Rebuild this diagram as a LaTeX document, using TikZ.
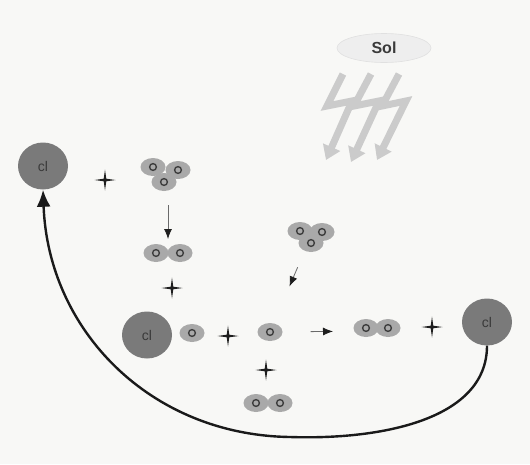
\documentclass[tikz,border=0pt]{standalone}
\usepackage{fontspec}
\setmainfont{Liberation Sans}
\usetikzlibrary{arrows.meta,shapes.geometric}
\definecolor{paper}{HTML}{F8F8F6}
\definecolor{clgray}{HTML}{7A7A7A}
\definecolor{cltext}{HTML}{3A3A3A}
\definecolor{atomgray}{HTML}{A9A9A9}
\definecolor{ringcol}{HTML}{3E3E3E}
\definecolor{shaftcol}{HTML}{6A6A6A}
\definecolor{boltgray}{HTML}{CBCBCB}
\definecolor{sunfill}{HTML}{EEEEEE}
\definecolor{sunline}{HTML}{E0E0E0}
\definecolor{starcol}{HTML}{1E1E1E}
\definecolor{cycleline}{HTML}{1A1A1A}
\tikzset{
  plussign/.pic={\fill[starcol] (0,-10.5) -- (1.3,-1.3) -- (10.5,0) -- (1.3,1.3)
    -- (0,10.5) -- (-1.3,1.3) -- (-10.5,0) -- (-1.3,-1.3) -- cycle;}
}
\begin{document}
\begin{tikzpicture}[x=1pt,y=-1pt,
  chlorine/.style={ellipse, fill=clgray, minimum width=50pt, minimum height=47pt,
    inner sep=0pt, text=cltext, font=\fontsize{14}{14}\selectfont},
  atom/.style={ellipse, fill=atomgray, minimum width=25pt, minimum height=18pt,
    inner sep=0pt, path picture={\draw[ringcol, line width=1.4pt]
      (path picture bounding box.center) circle[radius=3.4pt];}},
  sun/.style={ellipse, fill=sunfill, draw=sunline, line width=0.6pt,
    minimum width=94pt, minimum height=29pt, inner sep=0pt, text=cltext,
    font=\bfseries\fontsize{16}{16}\selectfont},
  bolt/.style={draw=boltgray, line width=7pt, line join=miter,
    -{Triangle[length=14pt,width=18pt]}},
  react/.style={draw=shaftcol, line width=0.8pt,
    -{Latex[length=10pt,width=8pt,color=starcol]}},
  cyclearrow/.style={draw=cycleline, line width=2.4pt, -{Latex[length=17pt,width=14pt]}}
]
% canvas
\fill[paper] (0,0) rectangle (530,464);
\useasboundingbox (0,0) rectangle (530,464);

% sun and incoming radiation
\node[sun] (sol) at (384,48) {Sol};
\draw[bolt] (343,74) -- (327,106) -- (352,101) -- (326,160);
\draw[bolt] (371,74) -- (354,106) -- (379,101) -- (351,162);
\draw[bolt] (399,74) -- (382,106) -- (406,101) -- (377,160);

% first step: Cl + O3
\node[chlorine] (clL) at (43,166) {cl};
\pic at (105,180) {plussign};
\node[atom] (o3a1) at (153,167) {};
\node[atom] (o3a2) at (178,170) {};
\node[atom] (o3a3) at (164,182) {};
\coordinate (o3top) at (168,176);

% products: O2 + ClO
\node[atom] (o2a1) at (156,253) {};
\node[atom] (o2a2) at (180,253) {};
\coordinate (o2left) at (168,253);
\pic at (172,288) {plussign};
\draw[react, shorten <=29pt, shorten >=14pt] (o3top) -- (o2left);

% second ozone split by the radiation
\node[atom] (o3b1) at (300,231) {};
\node[atom] (o3b2) at (322,232) {};
\node[atom] (o3b3) at (311,243) {};
\coordinate (o3right) at (311,236);

% ClO + O -> O2 + Cl
\node[chlorine] (clM) at (147,335) {cl};
\node[atom] (clo) at (192,333) {};
\pic at (228,336) {plussign};
\node[atom] (omid) at (270,332) {};
\draw[react, shorten <=34pt, shorten >=40pt] (o3right) -- (omid);
\node[atom] (o2b1) at (366,328) {};
\node[atom] (o2b2) at (388,328) {};
\coordinate (o2right) at (377,331);
\draw[react, shorten <=28pt, shorten >=44pt] (omid) -- (o2right);
\pic at (432,327) {plussign};
\node[chlorine] (clR) at (487,322) {cl};

% remaining O2
\pic at (266,370) {plussign};
\node[atom] (o2c1) at (256,403) {};
\node[atom] (o2c2) at (280,403) {};

% chlorine is recycled
\coordinate (low) at (290,437);
\draw[cyclearrow] (clR.south) .. controls (487,420) and (380,440) .. (low)
  .. controls (150,435) and (48,330) .. (clL.south);
\end{tikzpicture}
\end{document}
